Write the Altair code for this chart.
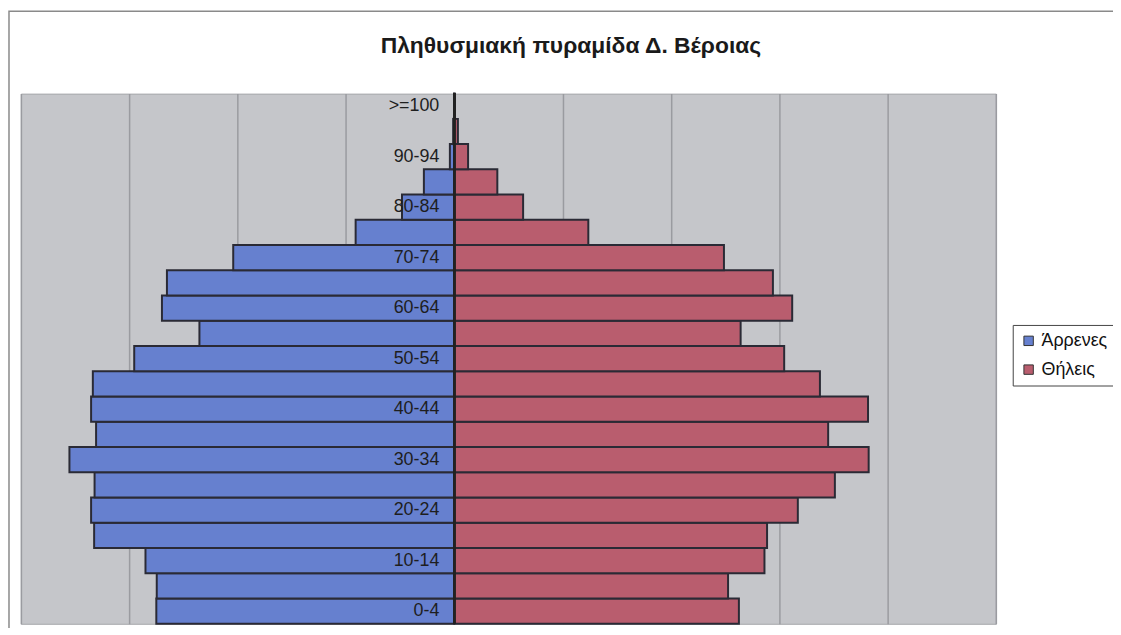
import altair as alt
import pandas as pd

ages = ["0-4", "5-9", "10-14", "15-19", "20-24", "25-29", "30-34", "35-39",
        "40-44", "45-49", "50-54", "55-59", "60-64", "65-69", "70-74", "75-79",
        "80-84", "85-89", "90-94", "95-99", ">=100"]
males = [1375, 1373, 1425, 1662, 1676, 1660, 1776, 1653, 1676, 1668, 1477,
         1176, 1349, 1326, 1020, 455, 241, 140, 20, 5, 1]
females = [1314, 1264, 1432, 1444, 1586, 1757, 1913, 1726, 1910, 1688, 1523,
           1322, 1560, 1471, 1245, 619, 318, 199, 64, 17, 3]
shown_labels = ["0-4", "10-14", "20-24", "30-34", "40-44", "50-54", "60-64",
                "70-74", "80-84", "90-94", ">=100"]
series = ["Άρρενες", "Θήλεις"]
colors = ["#6680cf", "#b95d6e"]

rows = []
for a, m, f in zip(ages, males, females):
    rows.append({"age": a, "sex": series[0], "value": -m})
    rows.append({"age": a, "sex": series[1], "value": f})
df = pd.DataFrame(rows)
lab = pd.DataFrame({"age": shown_labels, "zero": [0] * len(shown_labels)})
order = list(reversed(ages))

yenc = alt.Y("age:N", sort=order, axis=None,
             scale=alt.Scale(domain=order, paddingInner=0, paddingOuter=0))
xscale = alt.Scale(domain=[-2000, 2500], nice=False, zero=False)

bars = alt.Chart(df).mark_bar(stroke="#2a2a35", strokeWidth=2).encode(
    x=alt.X("value:Q", scale=xscale,
            axis=alt.Axis(values=list(range(-2000, 2501, 500)), labels=False,
                          ticks=False, domain=False, grid=True,
                          gridColor="#9a9ba0", gridWidth=1.5, title=None)),
    y=yenc,
    color=alt.Color("sex:N",
                    scale=alt.Scale(domain=series, range=colors),
                    legend=alt.Legend(title=None, orient="none", legendX=999,
                                      legendY=233, labelFontSize=18,
                                      labelFont="Liberation Sans",
                                      labelColor="#111", symbolType="square",
                                      symbolSize=90, symbolStrokeColor="#333",
                                      symbolStrokeWidth=1, rowPadding=11,
                                      strokeColor="#444", padding=7,
                                      fillColor="#ffffff", labelOffset=4)),
)

center = alt.Chart(lab).mark_rule(color="#222", strokeWidth=2).encode(
    x=alt.X("zero:Q", scale=xscale),
)

labels = alt.Chart(lab).mark_text(align="right", baseline="middle", dx=-15,
                                  fontSize=18, font="Liberation Sans",
                                  color="#1e1e1e").encode(
    x=alt.X("zero:Q", scale=xscale),
    y=yenc,
    text="age:N",
)

frame = alt.Chart(lab.head(1)).mark_rect(fill=None, stroke="#8a8a8a",
                                         strokeWidth=1.5).encode(
    x=alt.value(-12), x2=alt.value(1115), y=alt.value(-83), y2=alt.value(540)
)

chart = alt.layer(frame, bars, center, labels).properties(
    width=982, height=534,
    title=alt.TitleParams("Πληθυσμιακή πυραμίδα Δ. Βέροιας", fontSize=23,
                          font="Liberation Sans", fontWeight="bold",
                          color="#1a1a1a", anchor="middle", dx=63, offset=-48),
    autosize=alt.AutoSizeParams(type="none"),
    padding={"left": 13, "top": 84, "right": 118, "bottom": 2},
    background="#ffffff",
).configure_view(
    fill="#c5c6ca", stroke="#a5a6aa", strokeWidth=1
)

chart.save("out.html", embed_options={"renderer": "svg", "actions": False})
